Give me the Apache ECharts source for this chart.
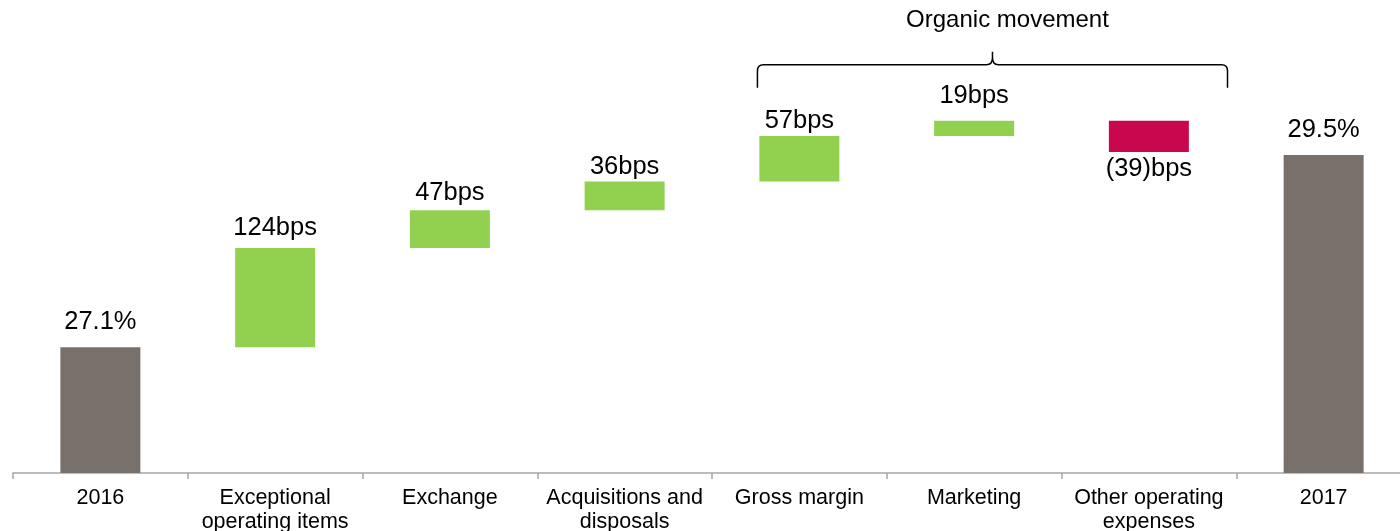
<!DOCTYPE html>
<html>
<head>
<meta charset="utf-8">
<title>Operating margin bridge</title>
<script src="https://cdn.jsdelivr.net/npm/echarts@6/dist/echarts.min.js"></script>
<style>
  html, body { margin: 0; padding: 0; background: #fff; }
  #chart { width: 1400px; height: 531px; }
</style>
</head>
<body>
<div id="chart"></div>
<script>
// categories along the x axis
const categories = ['2016', 'Exceptional\noperating items', 'Exchange', 'Acquisitions and\ndisposals',
  'Gross margin', 'Marketing', 'Other operating\nexpenses', '2017']
// margin at start and end (%)
const startMargin = 27.1
const endMargin = 29.5
// movements between them, in basis points
const movementsBps = [124, 47, 36, 57, 19, -39]
// brace over the organic movements: from / to, in category units, and its height (%)
const braceFrom = 3.76
const braceTo = 6.45
const braceLevel = 30.63
const braceTitle = 'Organic movement'

const grey = '#77706b'
const green = '#92d050'
const red = '#c8074f'

// build the waterfall: invisible base + visible part
const baseData = [0]
const barData = []
barData.push({ value: startMargin, itemStyle: { color: grey }, label: { formatter: startMargin.toFixed(1) + '%', distance: 12 } })
const topDist = [7, 4, 2, 2, 12]
let running = startMargin
movementsBps.forEach(function(bps, i) {
  const delta = bps / 100
  const next = running + delta
  baseData.push(Math.min(running, next))
  if (bps >= 0) {
    barData.push({ value: delta, itemStyle: { color: green }, label: { formatter: bps + 'bps', distance: topDist[i] } })
  } else {
    barData.push({ value: -delta, itemStyle: { color: red }, label: { position: 'bottom', formatter: '(' + (-bps) + ')bps', distance: 4 } })
  }
  running = next
})
baseData.push(0)
barData.push({ value: endMargin, itemStyle: { color: grey }, label: { formatter: endMargin.toFixed(1) + '%', distance: 12 } })

const myChart = echarts.init(document.getElementById('chart'))
const option = {
  animation: false,
  textStyle: { fontFamily: 'Liberation Sans, Arial, sans-serif' },
  grid: { left: 13, width: 1398, top: 35, bottom: 58, containLabel: false, outerBoundsMode: 'none' },
  xAxis: {
    type: 'category',
    data: categories,
    axisLine: { lineStyle: { color: '#a6a6a6', width: 1.5 } },
    axisTick: { show: true, length: 6, lineStyle: { color: '#a6a6a6', width: 1.5 } },
    axisLabel: { color: '#000', fontSize: 21.5, lineHeight: 24, margin: 13, interval: 0 }
  },
  yAxis: {
    type: 'value',
    min: 25.53,
    max: 31,
    show: false,
    splitLine: { show: false }
  },
  series: [
    {
      type: 'bar',
      stack: 'wf',
      data: baseData,
      barWidth: 80,
      itemStyle: { color: 'transparent' },
      silent: true
    },
    {
      type: 'bar',
      stack: 'wf',
      data: barData,
      barWidth: 80,
      label: { show: true, position: 'top', color: '#000', fontSize: 25.5 }
    },
    {
      type: 'custom',
      data: [[0, braceLevel]],
      silent: true,
      renderItem: function(params, api) {
        const x0 = api.coord([0, braceLevel])[0]
        const band = api.size([1, 0])[0]
        const y = api.coord([0, braceLevel])[1]
        const L = x0 + braceFrom * band
        const R = x0 + braceTo * band
        const C = (L + R) / 2
        const path = 'M' + L + ',' + (y + 23) + ' L' + L + ',' + (y + 6) +
          ' Q' + L + ',' + y + ' ' + (L + 6) + ',' + y +
          ' L' + (C - 6) + ',' + y + ' Q' + C + ',' + y + ' ' + C + ',' + (y - 7) +
          ' L' + C + ',' + (y - 13) +
          ' M' + C + ',' + (y - 7) + ' Q' + C + ',' + y + ' ' + (C + 6) + ',' + y +
          ' L' + (R - 6) + ',' + y + ' Q' + R + ',' + y + ' ' + R + ',' + (y + 6) +
          ' L' + R + ',' + (y + 23)
        return {
          type: 'group',
          children: [
            {
              type: 'path',
              shape: { pathData: path },
              style: { fill: null, stroke: '#000', lineWidth: 1.5 }
            },
            {
              type: 'text',
              x: C + 15,
              y: y - 32,
              style: {
                text: braceTitle,
                fontSize: 24,
                fontFamily: 'Liberation Sans, Arial, sans-serif',
                fill: '#000',
                align: 'center',
                verticalAlign: 'bottom'
              }
            }
          ]
        }
      }
    }
  ]
}
myChart.setOption(option)
</script>
</body>
</html>
